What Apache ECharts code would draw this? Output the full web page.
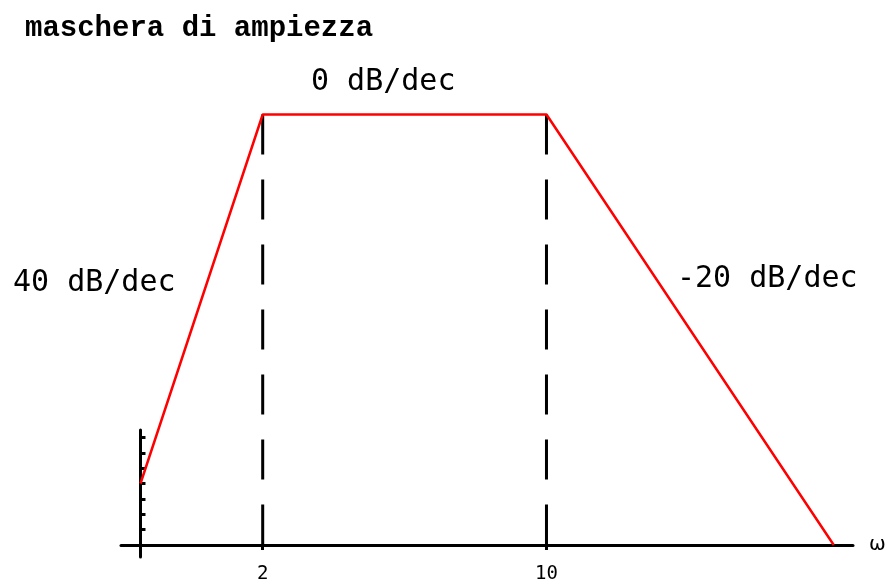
<!DOCTYPE html>
<html>
<head>
<meta charset="utf-8">
<script src="https://cdn.jsdelivr.net/npm/echarts@6/dist/echarts.min.js"></script>
<style>
  html, body { margin: 0; padding: 0; background: #fff; }
  #chart { width: 885px; height: 580px; }
</style>
</head>
<body>
<div id="chart"></div>
<script>
// asymptotic amplitude mask (Bode), omega on log scale
const omega = [1, 2, 10, 51];
const gainDb = [2, 14, 14, 0];
const cornerOmega = [2, 10];
const cornerGain = 14;
const gainTicks = [0.5, 1, 1.5, 2, 2.5, 3, 3.5];
const slopeLabels = ["40 dB/dec", "0 dB/dec", "-20 dB/dec"];
const titleText = "maschera di ampiezza";

const lg = (w) => Math.log10(w);

const maskData = omega.map((w, i) => [lg(w), gainDb[i]]);

const cornerSeries = cornerOmega.map((w) => ({
  type: "line",
  data: [[lg(w), cornerGain], [lg(w), 0]],
  symbol: "none",
  clip: false,
  silent: true,
  z: 1,
  lineStyle: { color: "#000", width: 3, type: [40, 25] },
}));

const chart = echarts.init(document.getElementById("chart"), null, { renderer: "canvas" });

chart.setOption({
  animation: false,
  backgroundColor: "#fff",
  grid: { left: 121, right: 32, top: 430, bottom: 23, containLabel: false, outerBoundsMode: "none" },
  xAxis: {
    type: "value",
    min: -0.048,
    max: 1.755,
    name: "ω",
    nameLocation: "end",
    nameGap: 16,
    nameTextStyle: { color: "#000", fontFamily: "DejaVu Sans", fontSize: 20, padding: [0, 0, 8, 0] },
    axisLine: { show: true, onZero: true, lineStyle: { color: "#000", width: 3 } },
    axisTick: {
      show: true,
      customValues: cornerOmega.map(lg),
      length: 5,
      lineStyle: { color: "#000", width: 3 },
    },
    axisLabel: {
      customValues: cornerOmega.map(lg),
      formatter: (v) => String(Math.round(Math.pow(10, v))),
      margin: 8,
      color: "#000",
      fontFamily: "DejaVu Sans Mono",
      fontSize: 19,
    },
    splitLine: { show: false },
  },
  yAxis: {
    type: "value",
    min: -0.39,
    max: 3.74,
    axisLine: { show: true, onZero: true, lineStyle: { color: "#000", width: 3 } },
    axisTick: {
      show: true,
      inside: true,
      customValues: gainTicks,
      length: 5,
      lineStyle: { color: "#000", width: 3 },
    },
    axisLabel: { show: false },
    splitLine: { show: false },
  },
  graphic: [
    {
      type: "text", left: 25, top: 14,
      style: { text: titleText, fill: "#000", font: "bold 29px 'Liberation Mono'" },
    },
    {
      type: "text", x: 13, y: 283,
      style: { text: slopeLabels[0], fill: "#000", font: "30px 'DejaVu Sans Mono'", verticalAlign: "middle" },
    },
    {
      type: "text", x: 311, y: 82,
      style: { text: slopeLabels[1], fill: "#000", font: "30px 'DejaVu Sans Mono'", verticalAlign: "middle" },
    },
    {
      type: "text", x: 677, y: 279,
      style: { text: slopeLabels[2], fill: "#000", font: "30px 'DejaVu Sans Mono'", verticalAlign: "middle" },
    },
  ],
  series: [
    ...cornerSeries,
    {
      type: "line",
      name: "mask",
      data: maskData,
      symbol: "none",
      clip: false,
      z: 3,
      lineStyle: { color: "#ff0000", width: 2.5 },
    },
  ],
});
</script>
</body>
</html>
